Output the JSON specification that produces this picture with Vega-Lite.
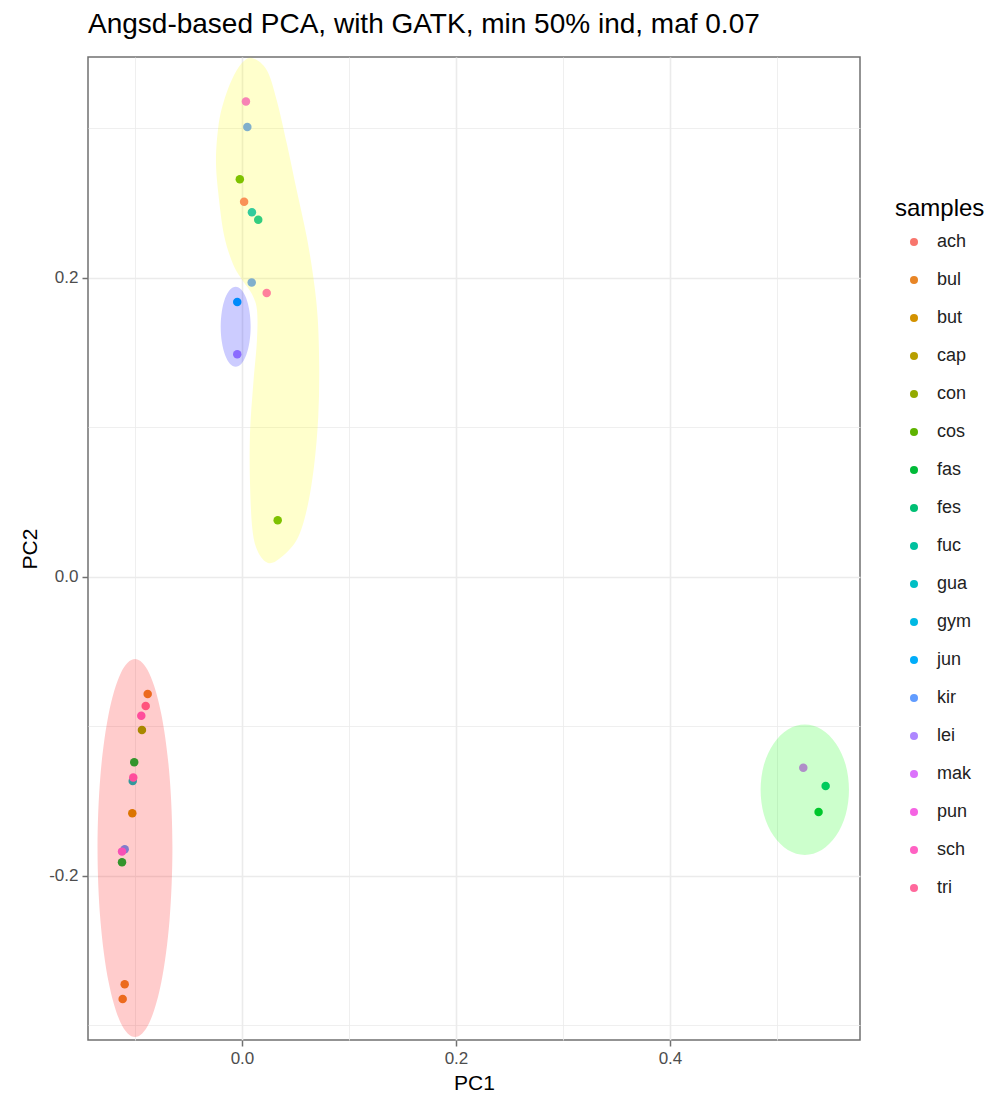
{
  "$schema": "https://vega.github.io/schema/vega-lite/v6.json",
  "width": 772,
  "height": 983,
  "autosize": {"type": "none"},
  "padding": {"left": 88, "top": 57, "right": 127, "bottom": 60},
  "background": "white",
  "title": {
    "text": "Angsd-based PCA, with GATK, min 50% ind, maf 0.07",
    "anchor": "start",
    "frame": "group",
    "fontSize": 28,
    "fontWeight": "normal",
    "color": "black",
    "offset": 18
  },
  "config": {
    "font": "Liberation Sans",
    "view": {"stroke": "#707070", "strokeWidth": 1.5},
    "axis": {
      "domain": false,
      "gridColor": "#EBEBEB",
      "tickColor": "#707070",
      "tickWidth": 1.5,
      "tickSize": 6,
      "labelColor": "#4D4D4D",
      "labelFontSize": 17,
      "labelPadding": 4,
      "titleFontSize": 21,
      "titleFontWeight": "normal",
      "titleColor": "black"
    }
  },
  "datasets": {
    "samples": [
      {"sample": "pun", "PC1": 0.0037, "PC2": 0.318},
      {"sample": "kir", "PC1": 0.005, "PC2": 0.301},
      {"sample": "cos", "PC1": -0.002, "PC2": 0.266},
      {"sample": "ach", "PC1": 0.002, "PC2": 0.251},
      {"sample": "gua", "PC1": 0.0093, "PC2": 0.244},
      {"sample": "fuc", "PC1": 0.0152, "PC2": 0.239},
      {"sample": "kir", "PC1": 0.0091, "PC2": 0.197},
      {"sample": "sch", "PC1": 0.0231, "PC2": 0.19},
      {"sample": "jun", "PC1": -0.0044, "PC2": 0.184},
      {"sample": "lei", "PC1": -0.0044, "PC2": 0.149},
      {"sample": "cos", "PC1": 0.0334, "PC2": 0.038},
      {"sample": "bul", "PC1": -0.0881, "PC2": -0.0783},
      {"sample": "tri", "PC1": -0.09, "PC2": -0.0863},
      {"sample": "sch", "PC1": -0.0941, "PC2": -0.0928},
      {"sample": "con", "PC1": -0.0935, "PC2": -0.1023},
      {"sample": "fas", "PC1": -0.1007, "PC2": -0.124},
      {"sample": "gua", "PC1": -0.1021, "PC2": -0.1365},
      {"sample": "sch", "PC1": -0.1016, "PC2": -0.1342},
      {"sample": "but", "PC1": -0.1025, "PC2": -0.1581},
      {"sample": "kir", "PC1": -0.1096, "PC2": -0.1821},
      {"sample": "pun", "PC1": -0.1121, "PC2": -0.1837},
      {"sample": "fas", "PC1": -0.1121, "PC2": -0.1908},
      {"sample": "bul", "PC1": -0.1096, "PC2": -0.2724},
      {"sample": "bul", "PC1": -0.1115, "PC2": -0.2823},
      {"sample": "mak", "PC1": 0.5246, "PC2": -0.1276},
      {"sample": "fes", "PC1": 0.5455, "PC2": -0.1398},
      {"sample": "fas", "PC1": 0.5389, "PC2": -0.1572}
    ],
    "hulls": [
      {"cluster": "A", "i": 0, "PC1": -0.065, "PC2": -0.1813},
      {"cluster": "A", "i": 1, "PC1": -0.0677, "PC2": -0.1329},
      {"cluster": "A", "i": 2, "PC1": -0.0753, "PC2": -0.0919},
      {"cluster": "A", "i": 3, "PC1": -0.0866, "PC2": -0.0645},
      {"cluster": "A", "i": 4, "PC1": -0.1, "PC2": -0.0549},
      {"cluster": "A", "i": 5, "PC1": -0.1134, "PC2": -0.0645},
      {"cluster": "A", "i": 6, "PC1": -0.1247, "PC2": -0.0919},
      {"cluster": "A", "i": 7, "PC1": -0.1323, "PC2": -0.1329},
      {"cluster": "A", "i": 8, "PC1": -0.135, "PC2": -0.1813},
      {"cluster": "A", "i": 9, "PC1": -0.1323, "PC2": -0.2297},
      {"cluster": "A", "i": 10, "PC1": -0.1247, "PC2": -0.2707},
      {"cluster": "A", "i": 11, "PC1": -0.1134, "PC2": -0.2981},
      {"cluster": "A", "i": 12, "PC1": -0.1, "PC2": -0.3077},
      {"cluster": "A", "i": 13, "PC1": -0.0866, "PC2": -0.2981},
      {"cluster": "A", "i": 14, "PC1": -0.0753, "PC2": -0.2707},
      {"cluster": "A", "i": 15, "PC1": -0.0677, "PC2": -0.2297},

      {"cluster": "B", "i": 0, "PC1": 0.0093, "PC2": 0.3472},
      {"cluster": "B", "i": 1, "PC1": 0.0231, "PC2": 0.3391},
      {"cluster": "B", "i": 2, "PC1": 0.0324, "PC2": 0.3191},
      {"cluster": "B", "i": 3, "PC1": 0.0418, "PC2": 0.2903},
      {"cluster": "B", "i": 4, "PC1": 0.0511, "PC2": 0.2589},
      {"cluster": "B", "i": 5, "PC1": 0.0605, "PC2": 0.2276},
      {"cluster": "B", "i": 6, "PC1": 0.0666, "PC2": 0.2009},
      {"cluster": "B", "i": 7, "PC1": 0.0707, "PC2": 0.1741},
      {"cluster": "B", "i": 8, "PC1": 0.0722, "PC2": 0.1407},
      {"cluster": "B", "i": 9, "PC1": 0.0713, "PC2": 0.1072},
      {"cluster": "B", "i": 10, "PC1": 0.0673, "PC2": 0.0738},
      {"cluster": "B", "i": 11, "PC1": 0.0605, "PC2": 0.0448},
      {"cluster": "B", "i": 12, "PC1": 0.0511, "PC2": 0.0247},
      {"cluster": "B", "i": 13, "PC1": 0.0355, "PC2": 0.0125},
      {"cluster": "B", "i": 14, "PC1": 0.0243, "PC2": 0.0094},
      {"cluster": "B", "i": 15, "PC1": 0.015, "PC2": 0.0167},
      {"cluster": "B", "i": 16, "PC1": 0.0098, "PC2": 0.0314},
      {"cluster": "B", "i": 17, "PC1": 0.0075, "PC2": 0.0627},
      {"cluster": "B", "i": 18, "PC1": 0.0075, "PC2": 0.0961},
      {"cluster": "B", "i": 19, "PC1": 0.0106, "PC2": 0.1296},
      {"cluster": "B", "i": 20, "PC1": 0.014, "PC2": 0.1585},
      {"cluster": "B", "i": 21, "PC1": 0.014, "PC2": 0.1786},
      {"cluster": "B", "i": 22, "PC1": 0.0093, "PC2": 0.1893},
      {"cluster": "B", "i": 23, "PC1": 0.0009, "PC2": 0.198},
      {"cluster": "B", "i": 24, "PC1": -0.0084, "PC2": 0.2094},
      {"cluster": "B", "i": 25, "PC1": -0.0168, "PC2": 0.2288},
      {"cluster": "B", "i": 26, "PC1": -0.0221, "PC2": 0.2567},
      {"cluster": "B", "i": 27, "PC1": -0.0243, "PC2": 0.2789},
      {"cluster": "B", "i": 28, "PC1": -0.0221, "PC2": 0.3012},
      {"cluster": "B", "i": 29, "PC1": -0.0175, "PC2": 0.3169},
      {"cluster": "B", "i": 30, "PC1": -0.0096, "PC2": 0.3324},
      {"cluster": "B", "i": 31, "PC1": -0.0003, "PC2": 0.3436},

      {"cluster": "C", "i": 0, "PC1": 0.5673, "PC2": -0.1423},
      {"cluster": "C", "i": 1, "PC1": 0.5642, "PC2": -0.1256},
      {"cluster": "C", "i": 2, "PC1": 0.5552, "PC2": -0.1115},
      {"cluster": "C", "i": 3, "PC1": 0.5418, "PC2": -0.102},
      {"cluster": "C", "i": 4, "PC1": 0.526, "PC2": -0.0987},
      {"cluster": "C", "i": 5, "PC1": 0.5102, "PC2": -0.102},
      {"cluster": "C", "i": 6, "PC1": 0.4968, "PC2": -0.1115},
      {"cluster": "C", "i": 7, "PC1": 0.4878, "PC2": -0.1256},
      {"cluster": "C", "i": 8, "PC1": 0.4847, "PC2": -0.1423},
      {"cluster": "C", "i": 9, "PC1": 0.4878, "PC2": -0.159},
      {"cluster": "C", "i": 10, "PC1": 0.4968, "PC2": -0.1731},
      {"cluster": "C", "i": 11, "PC1": 0.5102, "PC2": -0.1826},
      {"cluster": "C", "i": 12, "PC1": 0.526, "PC2": -0.1859},
      {"cluster": "C", "i": 13, "PC1": 0.5418, "PC2": -0.1826},
      {"cluster": "C", "i": 14, "PC1": 0.5552, "PC2": -0.1731},
      {"cluster": "C", "i": 15, "PC1": 0.5642, "PC2": -0.159},

      {"cluster": "D", "i": 0, "PC1": 0.0081, "PC2": 0.1674},
      {"cluster": "D", "i": 1, "PC1": 0.007, "PC2": 0.1777},
      {"cluster": "D", "i": 2, "PC1": 0.004, "PC2": 0.1864},
      {"cluster": "D", "i": 3, "PC1": -0.0005, "PC2": 0.1922},
      {"cluster": "D", "i": 4, "PC1": -0.0059, "PC2": 0.1942},
      {"cluster": "D", "i": 5, "PC1": -0.0113, "PC2": 0.1922},
      {"cluster": "D", "i": 6, "PC1": -0.0158, "PC2": 0.1864},
      {"cluster": "D", "i": 7, "PC1": -0.0188, "PC2": 0.1777},
      {"cluster": "D", "i": 8, "PC1": -0.0199, "PC2": 0.1674},
      {"cluster": "D", "i": 9, "PC1": -0.0188, "PC2": 0.1571},
      {"cluster": "D", "i": 10, "PC1": -0.0158, "PC2": 0.1484},
      {"cluster": "D", "i": 11, "PC1": -0.0113, "PC2": 0.1426},
      {"cluster": "D", "i": 12, "PC1": -0.0059, "PC2": 0.1406},
      {"cluster": "D", "i": 13, "PC1": -0.0005, "PC2": 0.1426},
      {"cluster": "D", "i": 14, "PC1": 0.004, "PC2": 0.1484},
      {"cluster": "D", "i": 15, "PC1": 0.007, "PC2": 0.1571}
    ]
  },
  "layer": [
    {
      "data": {"name": "samples"},
      "mark": {"type": "circle", "size": 72, "opacity": 1},
      "encoding": {
        "x": {
          "field": "PC1",
          "type": "quantitative",
          "title": "PC1",
          "scale": {"domain": [-0.1439, 0.5776], "nice": false, "zero": false},
          "axis": {
            "values": [-0.1, 0, 0.1, 0.2, 0.3, 0.4, 0.5],
            "labelExpr": "abs(round(datum.value * 10)) % 2 == 1 ? '' : (datum.value < 0 ? '-' + format(-datum.value, '.1f') : format(datum.value, '.1f'))",
            "tickOpacity": {"condition": {"test": "abs(round(datum.value * 10)) % 2 == 1", "value": 0}, "value": 1},
            "gridWidth": {"condition": {"test": "abs(round(datum.value * 10)) % 2 == 1", "value": 0.8}, "value": 1.6},
            "titlePadding": 6
          }
        },
        "y": {
          "field": "PC2",
          "type": "quantitative",
          "title": "PC2",
          "scale": {"domain": [-0.3097, 0.3478], "nice": false, "zero": false},
          "axis": {
            "values": [-0.3, -0.2, -0.1, 0, 0.1, 0.2, 0.3],
            "labelExpr": "abs(round(datum.value * 10)) % 2 == 1 ? '' : (datum.value < 0 ? '-' + format(-datum.value, '.1f') : format(datum.value, '.1f'))",
            "tickOpacity": {"condition": {"test": "abs(round(datum.value * 10)) % 2 == 1", "value": 0}, "value": 1},
            "gridWidth": {"condition": {"test": "abs(round(datum.value * 10)) % 2 == 1", "value": 0.8}, "value": 1.6},
            "titlePadding": 8
          }
        },
        "color": {
          "field": "sample",
          "type": "nominal",
          "title": "samples",
          "scale": {
            "domain": ["ach", "bul", "but", "cap", "con", "cos", "fas", "fes", "fuc", "gua", "gym", "jun", "kir", "lei", "mak", "pun", "sch", "tri"],
            "range": ["#F8766D", "#E88526", "#D39200", "#B79F00", "#93AA00", "#5EB300", "#00BA38", "#00BF74", "#00C19F", "#00BFC4", "#00B9E3", "#00ADFA", "#619CFF", "#AE87FF", "#DB72FB", "#F564E3", "#FF61C3", "#FF699C"]
          },
          "legend": {
            "orient": "none",
            "legendX": 807,
            "legendY": 140,
            "padding": 0,
            "titleFontSize": 24,
            "titleFontWeight": "normal",
            "titleColor": "black",
            "titlePadding": 12,
            "labelFontSize": 18,
            "labelColor": "#222222",
            "labelOffset": 14,
            "symbolType": "circle",
            "symbolSize": 65,
            "symbolOffset": 10,
            "symbolStrokeWidth": 0,
            "symbolOpacity": 1,
            "rowPadding": 20
          }
        }
      }
    },
    {
      "data": {"name": "hulls"},
      "mark": {"type": "line", "interpolate": "cardinal-closed", "filled": true, "fillOpacity": 0.2, "strokeWidth": 0, "clip": true},
      "encoding": {
        "x": {"field": "PC1", "type": "quantitative"},
        "y": {"field": "PC2", "type": "quantitative"},
        "fill": {
          "field": "cluster",
          "type": "nominal",
          "scale": {"domain": ["A", "B", "C", "D"], "range": ["#FF0000", "#FFFF00", "#00FF00", "#0000FF"]},
          "legend": null
        },
        "order": {"field": "i", "type": "quantitative"}
      }
    }
  ]
}
